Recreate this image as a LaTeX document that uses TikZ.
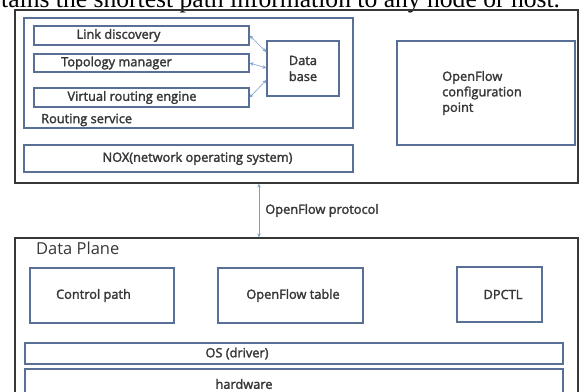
\documentclass[tikz,border=0pt]{standalone}
\usepackage{fontspec}
\setmainfont{Open Sans}
\newfontfamily\lblfont{Open Sans}[FakeBold=2]
\newfontfamily\pageserif{Liberation Serif}
\usepackage{tikz}
\usetikzlibrary{arrows.meta}

\definecolor{boxblue}{RGB}{88,112,150}
\definecolor{arrowblue}{RGB}{125,158,205}
\definecolor{framegray}{RGB}{55,55,55}
\definecolor{textgray}{RGB}{55,55,55}

\tikzset{
    frame/.style={draw=framegray, line width=1.3pt, inner sep=0pt},
    modbox/.style={draw=boxblue, line width=1.2pt, fill=white, inner sep=0pt},
    lbl/.style={font=\lblfont\fontsize{12.8}{14}\selectfont, text=textgray, inner sep=0pt},
    link/.style={draw=arrowblue, line width=0.6pt, {Stealth[length=4pt,width=3.5pt]}-{Stealth[length=4pt,width=3.5pt]}}
}

\begin{document}
\begin{tikzpicture}[x=1pt, y=-1pt]

            \useasboundingbox (0,0) rectangle (581,391);
            \clip (0,0) rectangle (581,391);

            \node[anchor=base west, inner sep=0pt, font=\pageserif\fontsize{25.6}{28}\selectfont] (head) at (1,7.5) {tains the shortest path information to any node or host.};

            \node[frame, minimum width=563, minimum height=173] (ctrl) at (296.5,96.5) {};
            \node[modbox, minimum width=329, minimum height=110] (routing) at (188.5,73) {};
            \node[lbl, anchor=west] (routingl) at (41,120) {Routing service};

            \node[modbox, minimum width=215, minimum height=19, label={[lbl, xshift=-23]center:Link discovery}] (disc) at (141.5,35.5) {};
            \node[modbox, minimum width=215, minimum height=18, label={[lbl, xshift=-25]center:Topology manager}] (topo) at (141.5,63) {};
            \node[modbox, minimum width=215, minimum height=19, label={[lbl, xshift=-9.5]center:Virtual routing engine}] (vre) at (141.5,97.5) {};
            \node[modbox, minimum width=72, minimum height=55, label={[lbl, align=left, font=\lblfont\fontsize{12.8}{16}\selectfont]center:Data\\base}] (db) at (303,68.5) {};

            \node[modbox, minimum width=329, minimum height=27, label={[lbl, xshift=9]center:NOX(network operating system)}] (nox) at (188.5,158.5) {};
            \node[modbox, minimum width=178, minimum height=104, label={[lbl, align=left, font=\lblfont\fontsize{12.8}{15.5}\selectfont, xshift=-4]center:OpenFlow\\configuration\\point}] (ofcp) at (486,93) {};

            \draw[link] (db.west |- 0,52) -- (disc.east);
            \draw[link] (db.west |- 0,68) -- (topo.east);
            \draw[link] (db.west |- 0,80) -- (vre.east);

            \node[frame, minimum width=563, minimum height=180] (dplane) at (296.5,328) {};
            \node[anchor=west, inner sep=0pt, font=\fontsize{16.5}{18}\selectfont, text=textgray] (dplanel) at (36,248.5) {Data Plane};

            \draw[link] (ctrl.south -| 259,0) -- (dplane.north -| 259,0) node[midway, right=6pt, lbl] (ofp) {OpenFlow protocol};

            \node[modbox, minimum width=144, minimum height=55, label={[lbl, xshift=-8.5]center:Control path}] (cpath) at (102,295.5) {};
            \node[modbox, minimum width=145, minimum height=55, label={[lbl, xshift=2.5]center:OpenFlow table}] (oftab) at (290.5,295.5) {};
            \node[modbox, minimum width=85, minimum height=55, label={[lbl, xshift=3.5]center:DPCTL}] (dpctl) at (499.5,294.5) {};
            \node[modbox, minimum width=538, minimum height=21, label={[lbl, xshift=-57]center:OS (driver)}] (os) at (294,353.5) {};
            \node[modbox, minimum width=538, minimum height=27, label={[lbl, xshift=-50, yshift=-1.5]center:hardware}] (hw) at (294,382.5) {};

\end{tikzpicture}
\end{document}
